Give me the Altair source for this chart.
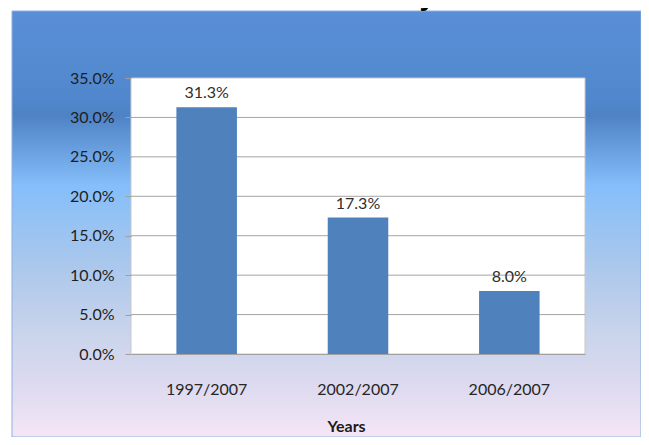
import altair as alt
import pandas as pd

# ---- data ----
years = ["1997/2007", "2002/2007", "2006/2007"]
shares = [0.313, 0.173, 0.080]
y_ticks = [0.0, 0.05, 0.10, 0.15, 0.20, 0.25, 0.30, 0.35]
grid_values = [0.05, 0.10, 0.15, 0.20, 0.25, 0.30]

# ---- layout ----
W, H = 454, 276
PAD_L, PAD_T, PAD_R, PAD_B = 123, 70, 56, 83

bars_df = pd.DataFrame({"year": years, "share": shares})
grid_df = pd.DataFrame({"share": grid_values})
one = pd.DataFrame({"k": [0]})

gradient = alt.Gradient(
    gradient="linear", x1=0, x2=0, y1=0, y2=1,
    stops=[
        alt.GradientStop(color="#5A8FD7", offset=0.0),
        alt.GradientStop(color="#5188CD", offset=0.20),
        alt.GradientStop(color="#4E82C5", offset=0.245),
        alt.GradientStop(color="#85BEFA", offset=0.41),
        alt.GradientStop(color="#A9C7EC", offset=0.59),
        alt.GradientStop(color="#CAD4EB", offset=0.76),
        alt.GradientStop(color="#DFDBF0", offset=0.89),
        alt.GradientStop(color="#F5E6F6", offset=1.0),
    ],
)

yscale = alt.Scale(domain=[0, 0.35], nice=False, zero=True)
yaxis = alt.Axis(
    values=y_ticks, format=".1%", title=None, grid=False, domain=False,
    ticks=True, tickSize=6, tickColor="#A0A0A0", labelPadding=11,
    labelFont="Lato", labelFontSize=16, labelColor="#1E1E1E", zindex=1,
)
xscale = alt.Scale(paddingInner=0.6, paddingOuter=0.3)
xaxis = alt.Axis(
    title="Years", labelAngle=0, ticks=False, domain=True, domainColor="#A0A0A0",
    labelPadding=27, labelFont="Lato", labelFontSize=16, labelColor="#262626",
    titleFont="Lato", titleFontSize=16, titleFontWeight="bold", titleColor="#1A1A1A",
    titleX=215, titleY=77, titleBaseline="alphabetic", titleAlign="center",
    grid=False, zindex=1,
)

bg = alt.Chart(one).mark_rect(fill=gradient, stroke="#8DB0E0", strokeWidth=1).encode(
    x=alt.value(-PAD_L + 4), x2=alt.value(W + PAD_R),
    y=alt.value(-PAD_T + 3), y2=alt.value(H + PAD_B),
)
plot_bg = alt.Chart(one).mark_rect(fill="white", stroke="#C8C8C8", strokeWidth=1).encode(
    x=alt.value(0), x2=alt.value(W), y=alt.value(0), y2=alt.value(H),
)
rules = alt.Chart(grid_df).mark_rule(color="#A5A5A5", strokeWidth=1).encode(
    y=alt.Y("share:Q", scale=yscale, axis=yaxis),
)
bars = alt.Chart(bars_df).mark_bar(color="#4F81BD").encode(
    x=alt.X("year:N", sort=years, scale=xscale, axis=xaxis),
    y=alt.Y("share:Q", scale=yscale, axis=yaxis),
)
labels = alt.Chart(bars_df).mark_text(
    baseline="alphabetic", dy=-9, font="Lato", fontSize=16, color="#2E2E2E"
).encode(
    x=alt.X("year:N", sort=years, scale=xscale, axis=xaxis),
    y=alt.Y("share:Q", scale=yscale, axis=yaxis),
    text=alt.Text("share:Q", format=".1%"),
)

chart = alt.layer(bg, plot_bg, rules, bars, labels).properties(
    width=W, height=H,
    autosize=alt.AutoSizeParams(type="none"),
    padding={"left": PAD_L, "top": PAD_T, "right": PAD_R, "bottom": PAD_B},
    title=alt.TitleParams(
        text="National Economy", font="Liberation Sans", fontSize=28,
        fontWeight="bold", color="#000000", anchor="middle", dx=-45, offset=0,
    ),
).configure_view(stroke="transparent")

chart.save("out.html", embed_options={"renderer": "svg", "actions": False})
